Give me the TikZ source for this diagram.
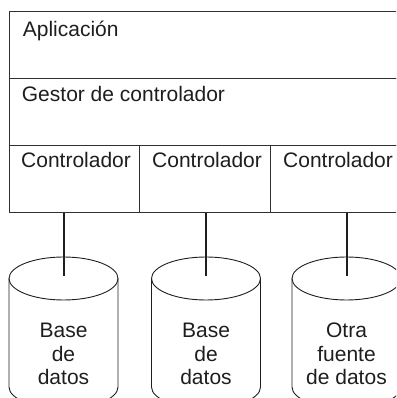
\documentclass[tikz,border=0pt]{standalone}
\usepackage{fontspec}
\setmainfont{Liberation Sans}
\definecolor{ink}{HTML}{1E1E1E}
\definecolor{rule}{HTML}{303030}
\begin{document}
\begin{tikzpicture}[x=1pt,y=1pt,
  font=\fontsize{21}{23.5}\selectfont,
  box/.style={draw=rule, line width=1.3pt, inner sep=0pt, anchor=north west},
  lbl/.style={anchor=base west, inner sep=0pt, text=ink},
  dblbl/.style={anchor=base, inner sep=0pt, text=ink, align=center},
  link/.style={draw=ink, line width=2pt},
  cyl/.style={draw=ink, line width=0.9pt}]
\useasboundingbox (0,0) rectangle (396,398);
\clip (0,0) rectangle (396,398);
% layers
\node[box, minimum width=391pt, minimum height=67pt] (app) at (9,387) {};
\node[box, minimum width=391pt, minimum height=67pt] (gestor) at (9,320) {};
\node[box, minimum width=130pt, minimum height=67pt] (ctl1) at (9,253) {};
\node[box, minimum width=131pt, minimum height=67pt] (ctl2) at (139,253) {};
\node[box, minimum width=130pt, minimum height=67pt] (ctl3) at (270,253) {};
\node[lbl] (tapp) at (22.7,361.3) {Aplicación};
\node[lbl] (tgestor) at (21.7,296.3) {Gestor de controlador};
\node[lbl] (tctl1) at (21,230) {Controlador};
\node[lbl] (tctl2) at (152,230) {Controlador};
\node[lbl] (tctl3) at (283,230) {Controlador};
% cylinders
\foreach \i/\cx in {1/63.5, 2/206, 3/346.5} {
  \coordinate (db\i) at (\cx,119.5);
  \coordinate (db\i in) at (\cx,122);
  \draw[cyl] (\cx,119.5) ellipse [x radius=54.5, y radius=21.5];
  \draw[cyl] (\cx-54.5,119.5) -- (\cx-54.5,11)
     arc[start angle=180, end angle=360, x radius=54.5, y radius=21.5]
     -- (\cx+54.5,119.5);
}
\node[dblbl] (tdb1) at (63.5,13) {Base\\de\\datos};
\node[dblbl] (tdb2) at (206,13) {Base\\de\\datos};
\node[dblbl] (tdb3) at (346.5,13) {Otra\\fuente\\de datos};
% connectors
\draw[link] (ctl1.south -| db1in) -- (db1in);
\draw[link] (ctl2.south -| db2in) -- (db2in);
\draw[link] (ctl3.south -| db3in) -- (db3in);
\end{tikzpicture}
\end{document}
